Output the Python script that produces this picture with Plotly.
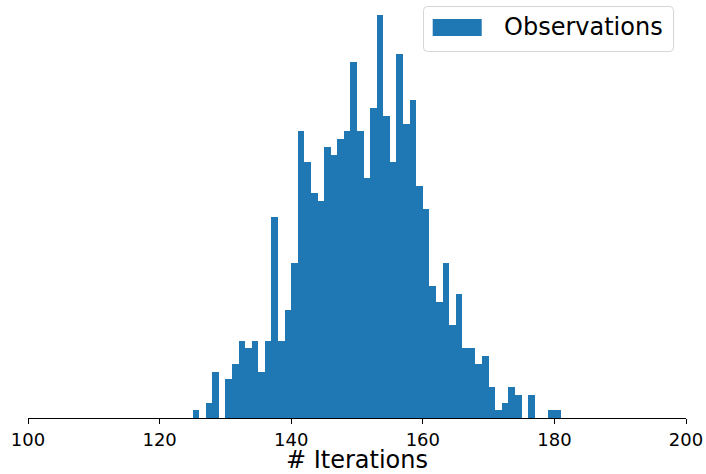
import plotly.graph_objects as go

# Histogram of iteration counts (bin left edges, width 1)
bin_starts = list(range(125, 181))
counts = [1, 0, 2, 6, 0, 5, 7, 10, 9, 10, 6, 10, 26, 10, 14,
          20, 37, 33, 29, 28, 35, 34, 36, 37, 46, 37, 31, 40, 52, 39,
          33, 47, 38, 41, 30, 27, 17, 15, 20, 12, 16, 9, 9, 7, 8,
          4, 1, 2, 4, 3, 0, 3, 0, 0, 1, 1]
tick_vals = [100, 120, 140, 160, 180, 200]
series_name = "Observations"
x_title = "# Iterations"

W, H = 706, 474
L, R, T, B = 28, 20, 0, 56
pw, ph = W - L - R, H - T - B
BLUE = "#1f77b4"
FONT = "DejaVu Sans"

def px(xp):
    return (xp - L) / pw

def py(yp):
    return (H - B - yp) / ph

fig = go.Figure()
fig.add_trace(go.Bar(
    x=bin_starts, y=counts, width=1, offset=0,
    marker=dict(color=BLUE, line=dict(width=0)),
    name=series_name, showlegend=False,
))

# manual legend box (matplotlib style)
x0, x1, y0, y1 = px(423.5), px(673.5), py(51.5), py(6.5)
r = 0.006
ry = r * pw / ph
path = (f"M {x0+r},{y0} L {x1-r},{y0} Q {x1},{y0} {x1},{y0+ry} "
        f"L {x1},{y1-ry} Q {x1},{y1} {x1-r},{y1} L {x0+r},{y1} "
        f"Q {x0},{y1} {x0},{y1-ry} L {x0},{y0+ry} Q {x0},{y0} {x0+r},{y0} Z")
fig.add_shape(type="path", path=path, xref="paper", yref="paper",
              line=dict(color="#d6d6d6", width=1), fillcolor="rgba(255,255,255,0.8)",
              layer="above")
fig.add_shape(type="rect", xref="paper", yref="paper",
              x0=px(432.7), x1=px(481.7), y0=py(36), y1=py(19),
              fillcolor=BLUE, line=dict(width=0), layer="above")
fig.add_annotation(text=series_name, xref="paper", yref="paper",
                   x=px(502), y=py(27.5), xanchor="left", yanchor="middle",
                   showarrow=False, font=dict(family=FONT, size=24, color="black"))

fig.update_layout(
    width=W, height=H,
    margin=dict(l=L, r=R, t=T, b=B, pad=0),
    paper_bgcolor="white", plot_bgcolor="white",
    bargap=0,
    font=dict(family=FONT, color="black"),
    xaxis=dict(
        range=[100, 200], tickvals=tick_vals,
        ticktext=[str(v) for v in tick_vals],
        showgrid=False, zeroline=False, automargin=False,
        showline=True, linecolor="black", linewidth=1,
        ticks="outside", ticklen=5, tickcolor="black", tickwidth=1,
        tickfont=dict(family=FONT, size=18, color="black"),
        title=dict(text=x_title, font=dict(family=FONT, size=24, color="black"), standoff=6),
    ),
    yaxis=dict(range=[0, ph / 7.75], visible=False, showgrid=False,
               zeroline=False, automargin=False),
)

fig.write_html("out.html", config={"displayModeBar": False},
               post_script="document.body.style.margin='0';document.body.style.overflow='hidden';")
